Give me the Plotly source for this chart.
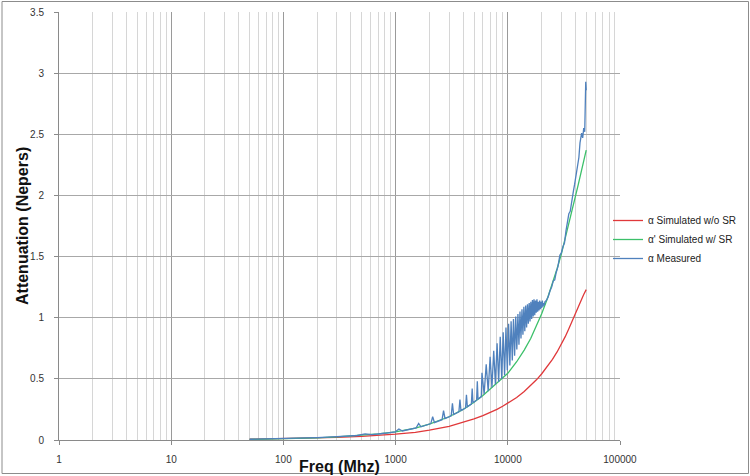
import plotly.graph_objects as go

# ---------------- data ----------------
sim_freq = [50, 100, 200, 300, 500, 700, 1000, 1500, 2000, 3000, 4000, 5000, 6000, 7000,
            8000, 9000, 10000, 12000, 14000, 16000, 18000, 20000, 22500, 25000, 27500,
            30000, 32500, 35000, 37500, 40000, 42500, 45000, 47500, 50000]
sim_wo_sr = [0.006, 0.011, 0.017, 0.022, 0.03, 0.037, 0.048, 0.063, 0.08, 0.112, 0.143,
             0.172, 0.199, 0.225, 0.251, 0.276, 0.30, 0.348, 0.396, 0.444, 0.492, 0.54, 0.60,
             0.66, 0.72, 0.78, 0.845, 0.91, 0.97, 1.03, 1.085, 1.14, 1.19, 1.23]
sim_w_sr = [0.005, 0.01, 0.018, 0.025, 0.038, 0.05, 0.066, 0.098, 0.13, 0.19, 0.25, 0.308,
            0.364, 0.418, 0.465, 0.505, 0.545, 0.64, 0.735, 0.83, 0.93, 1.03, 1.155, 1.275,
            1.40, 1.52, 1.645, 1.765, 1.88, 1.99, 2.09, 2.19, 2.28, 2.37]

meas_freq = [50, 100, 200, 300, 400, 455, 535, 615, 800, 990, 1070, 1150, 1525, 1605, 1685,
             2060, 2140, 2220, 2595, 2675, 2755, 3130, 3210, 3290, 3665, 3745, 3825, 4200,
             4280, 4360, 4735, 4815, 4895, 5270, 5350, 5430, 5805, 5885, 6152, 6420, 6687,
             6955, 7222, 7490, 7757, 8025, 8292, 8560, 8827, 9095, 9362, 9630, 9897, 10165,
             10432, 10700, 10967, 11235, 11502, 11770, 12037, 12305, 12572, 12840, 13107,
             13375, 13642, 13910, 14177, 14445, 14712, 14980, 15247, 15515, 15782, 16050,
             16317, 16585, 16852, 17120, 17387, 17655, 17922, 18190, 18457, 18725, 18992,
             19260, 19527, 19795, 20062, 20330, 20597, 20865, 21132, 21400, 22000, 22900,
             23800, 24600, 25400, 26200, 27000, 28000, 29100, 30000, 31000, 32000, 33000,
             33900, 35000, 36000, 36700, 37500, 38500, 39400, 40300, 41000, 42300, 43000,
             44000, 44500, 45500, 46500, 47500, 48500, 49500, 50000]
meas_val = [0.006, 0.011, 0.02, 0.027, 0.034, 0.037, 0.05, 0.044, 0.055, 0.066, 0.09, 0.074,
            0.099, 0.135, 0.108, 0.134, 0.19, 0.142, 0.166, 0.24, 0.176, 0.198, 0.30, 0.208,
            0.230, 0.33, 0.240, 0.262, 0.37, 0.272, 0.294, 0.42, 0.304, 0.325, 0.48, 0.334,
            0.355, 0.55, 0.375, 0.62, 0.40, 0.68, 0.43, 0.73, 0.455, 0.79, 0.475, 0.845,
            0.50, 0.88, 0.53, 0.92, 0.57, 0.95, 0.61, 0.97, 0.65, 0.99, 0.69, 1.01, 0.74,
            1.03, 0.78, 1.05, 0.83, 1.07, 0.86, 1.09, 0.89, 1.10, 0.92, 1.11, 0.95, 1.12,
            0.97, 1.13, 0.99, 1.145, 1.01, 1.15, 1.02, 1.14, 1.04, 1.15, 1.05, 1.13, 1.06,
            1.14, 1.07, 1.13, 1.08, 1.14, 1.09, 1.12, 1.10, 1.13, 1.14, 1.17, 1.22, 1.25,
            1.30, 1.31, 1.37, 1.42, 1.51, 1.53, 1.58, 1.61, 1.71, 1.77, 1.85, 1.87, 1.93,
            1.95, 2.04, 2.09, 2.15, 2.19, 2.30, 2.31, 2.43, 2.47, 2.51, 2.47, 2.55, 2.52,
            2.93, 2.86]

names = ["α Simulated w/o SR", "α' Simulated w/ SR", "α Measured"]
x_tick_vals = [1, 10, 100, 1000, 10000, 100000]
x_tick_text = ["1", "10", "100", "1000", "10000", "100000"]
x_minor_vals = [m * d for d in [1, 10, 100, 1000, 10000] for m in range(2, 10)]

# ---------------- figure ----------------
fig = go.Figure()
fig.add_trace(go.Scatter(x=sim_freq, y=sim_wo_sr, mode="lines", name=names[0],
                         line=dict(color="#E0383A", width=1.3)))
fig.add_trace(go.Scatter(x=sim_freq, y=sim_w_sr, mode="lines", name=names[1],
                         line=dict(color="#3CC06A", width=1.3)))
fig.add_trace(go.Scatter(x=meas_freq, y=meas_val, mode="lines", name=names[2],
                         line=dict(color="#4F81BD", width=1.3)))

W, H = 750, 476
L, R, T, B = 59, 130, 12, 36
pw, ph = W - L - R, H - T - B


def px_x(p):
    return (p - L) / pw


def px_y(p):
    return (H - B - p) / ph


fig.update_layout(
    width=W, height=H,
    margin=dict(l=L, r=R, t=T, b=B, autoexpand=False),
    paper_bgcolor="white", plot_bgcolor="white",
    font=dict(family="Liberation Sans, Arial, sans-serif", size=10, color="#333333"),
    showlegend=True,
    legend=dict(x=px_x(608), y=px_y(206), xanchor="left", yanchor="top",
                font=dict(size=10, color="#222222"), itemwidth=30,
                bgcolor="rgba(0,0,0,0)", borderwidth=0, tracegroupgap=0),
    xaxis=dict(type="log", range=[0, 5], tickvals=x_tick_vals, ticktext=x_tick_text,
               showgrid=True, gridcolor="#9a9a9a", gridwidth=1,
               minor=dict(tickvals=x_minor_vals, showgrid=True, gridcolor="#d6d6d6",
                          gridwidth=1, ticks=""),
               showline=True, linecolor="#8a8a8a", linewidth=1,
               ticks="outside", ticklen=4, tickcolor="#8a8a8a",
               ticklabelstandoff=6, zeroline=False,
               tickfont=dict(size=10, color="#333333")),
    yaxis=dict(range=[0, 3.5], dtick=0.5, tick0=0,
               showgrid=True, gridcolor="#a8a8a8", gridwidth=1,
               showline=True, linecolor="#8a8a8a", linewidth=1,
               ticks="outside", ticklen=4, tickcolor="#8a8a8a",
               ticklabelstandoff=8, zeroline=False,
               tickfont=dict(size=10, color="#333333")),
    annotations=[
        dict(text="<b>Freq (Mhz)</b>", xref="paper", yref="paper",
             x=0.5, y=px_y(466), xanchor="center", yanchor="middle",
             showarrow=False, font=dict(size=16, color="#111111")),
        dict(text="<b>Attenuation (Nepers)</b>", xref="paper", yref="paper",
             x=px_x(22), y=px_y(226), xanchor="center", yanchor="middle",
             textangle=-90, showarrow=False, font=dict(size=16, color="#111111")),
    ],
    shapes=[
        dict(type="rect", xref="paper", yref="paper",
             x0=px_x(2), x1=px_x(748.5), y0=px_y(473.5), y1=px_y(1.5),
             line=dict(color="#8c8c8c", width=1), fillcolor="rgba(0,0,0,0)"),
    ],
)

fig.write_html("out.html", config={"displayModeBar": False},
               post_script="document.body.style.margin='0';document.body.style.padding='0';")
